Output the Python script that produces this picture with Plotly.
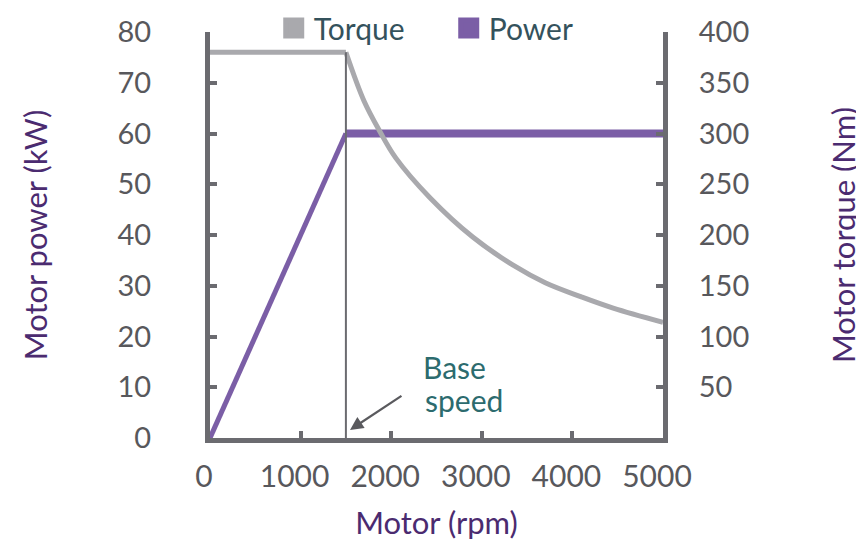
import plotly.graph_objects as go

# ---- data ----
power_rpm = [0, 1500, 5000]
power_kw = [0, 60, 60]

torque_rpm = [0, 1500, 1700, 1875, 2050, 2425, 2900, 3350, 3700, 4100, 4450, 5000]
torque_nm = [380, 380, 332, 302, 276, 237, 198, 170, 153, 139, 128, 114]

base_speed = 1500

x_ticks = [0, 1000, 2000, 3000, 4000, 5000]
left_ticks = [0, 10, 20, 30, 40, 50, 60, 70, 80]
right_ticks = [50, 100, 150, 200, 250, 300, 350, 400]

GREY = "#a9a9ad"
PURPLE = "#7b5ea6"
AXIS = "#6b6b70"
TITLE = "#4b2b70"
LABEL = "#58585c"
TEAL = "#2c6b6e"
FONT = "Lato"

fig = go.Figure()

# torque on right axis: constant part, then the falling curve
fig.add_trace(go.Scatter(x=torque_rpm[:2], y=torque_nm[:2], mode="lines", yaxis="y2",
                         line=dict(color=GREY, width=5),
                         showlegend=False, hoverinfo="skip"))
fig.add_trace(go.Scatter(x=torque_rpm[1:], y=torque_nm[1:], mode="lines", yaxis="y2",
                         line=dict(color=GREY, width=5, shape="spline", smoothing=1),
                         showlegend=False, hoverinfo="skip"))
# power rising part and flat part
fig.add_trace(go.Scatter(x=power_rpm[:2], y=power_kw[:2], mode="lines",
                         line=dict(color=PURPLE, width=5), showlegend=False))
fig.add_trace(go.Scatter(x=power_rpm[1:], y=power_kw[1:], mode="lines",
                         line=dict(color=PURPLE, width=8), showlegend=False))

# legend squares
fig.add_trace(go.Scatter(x=[None], y=[None], mode="markers", name="Torque",
                         marker=dict(symbol="square", size=16, color=GREY,
                                     line=dict(color=GREY, width=5))))
fig.add_trace(go.Scatter(x=[None], y=[None], mode="markers", name="Power",
                         marker=dict(symbol="square", size=16, color=PURPLE,
                                     line=dict(color=PURPLE, width=5))))

# base speed vertical line
fig.add_shape(type="line", xref="x", yref="y2", x0=base_speed, x1=base_speed,
              y0=0, y1=torque_nm[1], line=dict(color=AXIS, width=2))

# arrow + label
fig.add_annotation(x=1545, y=1.6, xref="x", yref="y", text="", showarrow=True,
                   ax=53, ay=-35, arrowhead=2, arrowsize=1.2, arrowwidth=2.2,
                   arrowcolor="#5a5a5e")
fig.add_annotation(x=2704, y=13.9, xref="x", yref="y", text="Base",
                   showarrow=False, font=dict(family=FONT, size=30, color=TEAL))
fig.add_annotation(x=2804, y=7.4, xref="x", yref="y", text="speed",
                   showarrow=False, font=dict(family=FONT, size=30, color=TEAL))

axis_common = dict(showline=True, linewidth=5, linecolor=AXIS, ticks="inside",
                   ticklen=7, tickwidth=4, tickcolor=AXIS, showgrid=False,
                   zeroline=False, automargin=False)

fig.update_layout(
    width=864, height=551,
    margin=dict(l=202, r=209, t=24, b=121, autoexpand=False),
    plot_bgcolor="white", paper_bgcolor="white",
    font=dict(family=FONT),
    xaxis=dict(range=[0, 5000], tickvals=x_ticks, ticklabelstandoff=8,
               ticklabelshift=-6,
               tickfont=dict(family=FONT, size=30, color=LABEL),
               title=dict(text="Motor (rpm)", font=dict(family=FONT, size=31, color=TITLE),
                          standoff=22),
               **axis_common),
    yaxis=dict(range=[0, 80], tickvals=left_ticks, ticklabelstandoff=48,
               tickfont=dict(family=FONT, size=29, color=LABEL),
               title=dict(text="Motor power (kW)", font=dict(family=FONT, size=31, color=TITLE),
                          standoff=62),
               **axis_common),
    yaxis2=dict(range=[0, 400], tickvals=right_ticks, overlaying="y", side="right",
                ticklabelstandoff=25,
                tickfont=dict(family=FONT, size=29, color=LABEL),
                title=dict(text="Motor torque (Nm)", font=dict(family=FONT, size=31, color=TITLE),
                           standoff=87),
                **axis_common),
    legend=dict(orientation="h", x=0.527, xanchor="center", y=1.0099, yanchor="middle",
                font=dict(family=FONT, size=30, color="#34525c"),
                itemwidth=30, tracegroupgap=0, entrywidth=130,
                bgcolor="rgba(0,0,0,0)"),
)

fig.write_html("out.html")
